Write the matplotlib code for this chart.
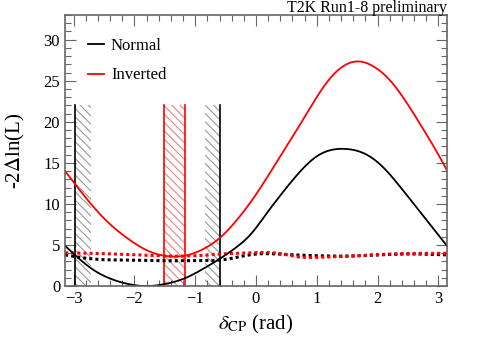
import numpy as np
import matplotlib.pyplot as plt
from matplotlib.ticker import MultipleLocator

plt.rcParams['font.family'] = ['Liberation Serif', 'DejaVu Serif']
plt.rcParams['mathtext.fontset'] = 'stix'
plt.rcParams['hatch.linewidth'] = 0.8

# values
x_norm = [-3.14, -2.95, -2.68, -2.41, -2.13, -1.8, -1.5, -1.14, -0.87, -0.59, -0.32, -0.1,
          0.18, 0.45, 0.72, 1.0, 1.47, 1.82, 2.1, 2.37, 2.65, 2.92, 3.14]
y_norm = [4.9, 3.6, 2.0, 0.95, 0.3, 0.0, 0.25, 1.05, 2.1, 3.35, 4.75, 6.2,
          8.9, 11.5, 13.9, 15.8, 16.7, 16.0, 14.4, 12.1, 9.5, 7.0, 4.9]

x_inv = [-3.14, -2.68, -2.41, -2.13, -1.86, -1.58, -1.36, -1.14, -0.87, -0.59, -0.32, -0.1,
         0.18, 0.45, 0.67, 0.94, 1.22, 1.49, 1.66, 1.93, 2.21, 2.48, 2.76, 3.03, 3.14]
y_inv = [14.0, 9.7, 7.6, 5.9, 4.6, 3.8, 3.6, 3.75, 4.5, 5.9, 8.0, 10.1,
         13.2, 16.4, 19.0, 22.3, 25.3, 27.0, 27.35, 26.75, 25.0, 22.3, 19.0, 15.6, 14.1]

x_crit_n = [-3.14, -2.68, -2.13, -1.4, -0.87, -0.59, -0.32, -0.04, 0.5, 1.0, 1.5, 2.37, 3.14]
y_crit_n = [3.8, 3.3, 3.17, 3.08, 3.12, 3.17, 3.5, 3.87, 3.85, 3.7, 3.65, 3.9, 3.8]
x_crit_i = [-3.14, -2.13, -1.4, -0.87, -0.59, -0.04, 0.1, 0.4, 0.7, 1.0, 1.55, 2.2, 3.14]
y_crit_i = [4.06, 3.85, 3.65, 3.75, 3.9, 4.06, 4.1, 3.95, 3.55, 3.5, 3.66, 3.9, 4.0]

band_n = [(-2.98, -2.72), (-0.84, -0.60)]
band_i = [(-1.52, -1.16)]
band_top = 22


def spline(xs, ys, num=500):
    # natural cubic spline through the read points
    xs = np.asarray(xs, float); ys = np.asarray(ys, float)
    n = len(xs)
    h = np.diff(xs)
    A = np.zeros((n, n)); r = np.zeros(n)
    A[0, 0] = A[-1, -1] = 1
    for i in range(1, n - 1):
        A[i, i - 1] = h[i - 1]
        A[i, i] = 2 * (h[i - 1] + h[i])
        A[i, i + 1] = h[i]
        r[i] = 6 * ((ys[i + 1] - ys[i]) / h[i] - (ys[i] - ys[i - 1]) / h[i - 1])
    M = np.linalg.solve(A, r)
    xx = np.linspace(xs[0], xs[-1], num)
    idx = np.clip(np.searchsorted(xs, xx) - 1, 0, n - 2)
    x0, x1 = xs[idx], xs[idx + 1]
    hh = x1 - x0
    a = (x1 - xx) / hh; b = (xx - x0) / hh
    yy = a * ys[idx] + b * ys[idx + 1] + ((a**3 - a) * M[idx] + (b**3 - b) * M[idx + 1]) * hh**2 / 6
    return xx, yy


fig = plt.figure(figsize=(5.0, 3.41), dpi=100)
ax = fig.add_axes([0.13, 0.161, 0.764, 0.795])

for a, b in band_n:
    ax.fill_between([a, b], 0, band_top, facecolor='none', edgecolor='#999999', hatch='\\\\\\\\', linewidth=0)
for a, b in band_i:
    ax.fill_between([a, b], 0, band_top, facecolor='none', edgecolor='#f08080', hatch='\\\\\\\\', linewidth=0)

ax.plot([band_n[0][0]] * 2, [0, band_top], color='black', lw=1.2)
ax.plot([band_n[1][1]] * 2, [0, band_top], color='black', lw=1.2)
for a, b in band_i:
    ax.plot([a, a], [0, band_top], color='red', lw=1.2)
    ax.plot([b, b], [0, band_top], color='red', lw=1.2)

ax.plot(*spline(x_crit_n, y_crit_n), color='black', lw=2.2, ls=(0, (1, 1)))
ax.plot(*spline(x_crit_i, y_crit_i), color='red', lw=2.2, ls=(0, (1, 1)))
ax.plot(*spline(x_norm, y_norm), color='black', lw=1.3, label='Normal')
ax.plot(*spline(x_inv, y_inv), color='red', lw=1.3, label='Inverted')

ax.set_xlim(-np.pi, np.pi)
ax.set_ylim(0, 33)
ax.xaxis.set_major_locator(MultipleLocator(1))
ax.xaxis.set_minor_locator(MultipleLocator(0.2))
ax.yaxis.set_major_locator(MultipleLocator(5))
ax.yaxis.set_minor_locator(MultipleLocator(1))
ax.tick_params(which='both', direction='in', top=True, right=True, labelsize=12, color='#666666', width=0.8)
ax.tick_params(which='major', length=8)
ax.tick_params(which='minor', length=4)
for s in ax.spines.values():
    s.set_color('#666666'); s.set_linewidth(1.2)

ax.set_xlabel(r'$\delta_{\rm CP}$ (rad)', fontsize=15)
ax.set_ylabel(r'-2$\Delta$ln(L)', fontsize=15, labelpad=12)
ax.text(1.0, 1.012, 'T2K Run1-8 preliminary', transform=ax.transAxes, ha='right', va='baseline', fontsize=11.5)

ax.legend(loc='upper left', frameon=False, fontsize=12, handlelength=1.0, handletextpad=0.4,
          labelspacing=0.8, bbox_to_anchor=(0.02, 0.97))

fig.savefig('out.png', dpi=100)
